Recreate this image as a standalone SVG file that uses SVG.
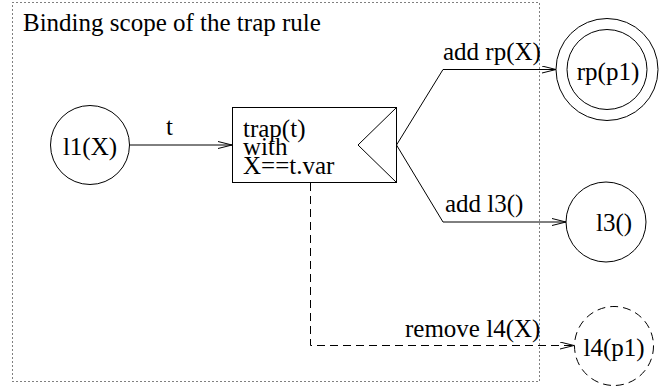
<svg xmlns="http://www.w3.org/2000/svg" width="664" height="387" viewBox="0 0 664 387">
  <defs>
    <style>
      .lbl { font-size: 25px; fill: #000; }
      .line { fill: none; stroke: #000; stroke-width: 1; }
      .dash { fill: none; stroke: #000; stroke-width: 1; stroke-dasharray: 8 5; }
      .scope { fill: none; stroke: #000; stroke-width: 1; stroke-dasharray: 1 3; }
      .mid { text-anchor: middle; }
    </style>
    <marker id="open" viewBox="0 0 14 8" refX="14" refY="4" markerWidth="14" markerHeight="8" markerUnits="userSpaceOnUse" orient="auto">
      <path d="M0,0.5 L14,4 L0,7.5" fill="none" stroke="#000" stroke-width="1"/>
    </marker>
  </defs>
  <rect width="664" height="387" fill="#fff"/>

  <g font-family="Liberation Serif, Times New Roman, serif">
    <!-- binding scope frame -->
    <g id="scope">
      <rect class="scope" x="12.5" y="2.5" width="527" height="379"/>
      <text class="lbl" x="23" y="31">Binding scope of the trap rule</text>
    </g>

    <!-- connectors -->
    <g id="connectors">
      <path class="line" d="M129.5,145 H232" marker-end="url(#open)"/>
      <text class="lbl" x="166" y="135">t</text>
      <path class="line" d="M396.5,145 L443,69.5 H556" marker-end="url(#open)"/>
      <text class="lbl" x="443" y="60">add rp(X)</text>
      <path class="line" d="M396.5,145 L443,222 H566" marker-end="url(#open)"/>
      <text class="lbl" x="445" y="212">add l3()</text>
      <path class="dash" d="M310.5,183 V345.5 H574" marker-end="url(#open)"/>
      <text class="lbl" x="405" y="337">remove l4(X)</text>
    </g>

    <g id="l1">
      <circle class="line" cx="90" cy="145" r="39.5"/>
      <text class="lbl mid" x="90" y="155">l1(X)</text>
    </g>

    <g id="trap">
      <rect class="line" x="232.5" y="107.5" width="164" height="75"/>
      <path class="line" d="M396.5,107.5 L358,145 L396.5,182.5"/>
      <text class="lbl" x="243" y="137">trap(t)</text>
      <text class="lbl" x="243" y="155">with</text>
      <text class="lbl" x="243" y="174">X==t.var</text>
    </g>

    <g id="rp">
      <circle class="line" cx="607" cy="69.5" r="51"/>
      <circle class="line" cx="607" cy="69.5" r="40"/>
      <text class="lbl mid" x="608" y="80">rp(p1)</text>
    </g>

    <g id="l3">
      <circle class="line" cx="606" cy="222" r="40"/>
      <text class="lbl mid" x="614" y="231">l3()</text>
    </g>

    <g id="l4">
      <circle class="dash" cx="614" cy="346" r="39.5"/>
      <text class="lbl mid" x="614" y="356">l4(p1)</text>
    </g>
  </g>
</svg>
